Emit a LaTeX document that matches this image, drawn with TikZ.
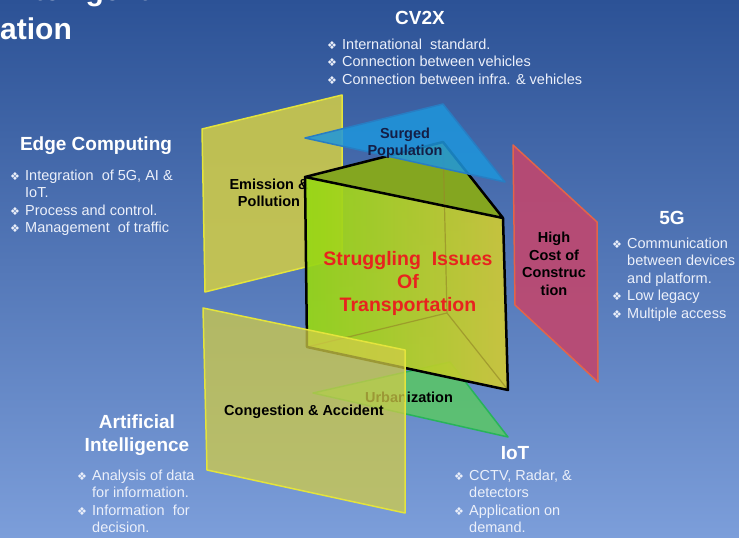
\documentclass[tikz,border=0pt]{standalone}
\usepackage{fontspec}
\setmainfont{Liberation Sans}
\newfontfamily\dejavu{DejaVu Sans}
\usetikzlibrary{positioning}
\definecolor{bgoben}{RGB}{44,82,150}
\definecolor{bgmitte}{RGB}{80,120,190}
\definecolor{bgunten}{RGB}{124,158,218}
\definecolor{schrift}{RGB}{236,240,250}
\definecolor{gelb}{RGB}{208,204,72}
\definecolor{gelbrand}{RGB}{228,228,60}
\definecolor{blau}{RGB}{30,150,220}
\definecolor{blaurand}{RGB}{40,125,195}
\definecolor{gruen}{RGB}{90,200,100}
\definecolor{gruenrand}{RGB}{40,180,90}
\definecolor{rot}{RGB}{190,72,112}
\definecolor{rotrand}{RGB}{228,100,72}
\definecolor{limette}{RGB}{150,215,20}
\definecolor{oliv}{RGB}{208,200,55}
\definecolor{deckel}{RGB}{132,166,32}
\definecolor{kante}{RGB}{150,140,40}
\definecolor{warnrot}{RGB}{232,35,30}
\newcommand{\punkt}{\makebox[15pt][l]{\dejavu\fontsize{11}{11}\selectfont ❖}}
\tikzset{
  titel/.style={text=white, font=\bfseries\fontsize{30}{34}\selectfont, inner sep=0pt},
  kopf/.style={text=white, font=\bfseries\fontsize{19}{23}\selectfont, align=center, inner sep=0pt},
  liste/.style={text=schrift, font=\fontsize{14.5}{17.5}\selectfont, align=left, anchor=base west, inner sep=0pt},
  etikett/.style={font=\bfseries\fontsize{14.5}{17.5}\selectfont, align=center, inner sep=0pt},
  flaeche/.style={line width=1.5pt, line join=round},
}

\begin{document}
\begin{tikzpicture}[x=1pt, y=-1pt]
    \useasboundingbox (0,0) rectangle (739,538);
    \shade[top color=bgoben, middle color=bgmitte, bottom color=bgunten] (0,0) rectangle (739,538);

    % title, cut off by the frame
    \node[titel, anchor=base west] (intelligent) at (7,1) {Intelligent};
    \node[titel, anchor=base west] (ation) at (0,39) {ation};

    % back panel and green triangle
    \draw[flaeche, draw=gelbrand, fill=gelb, fill opacity=0.88] (202,129) -- (342,95) -- (342,258) -- (205,292) -- cycle;
    \node[etikett] (emission) at (269,193) {Emission \&\\Pollution};
    \draw[flaeche, draw=gruenrand, fill=gruen, fill opacity=0.85] (313,393) -- (450,362) -- (508,437) -- cycle;
    \node[etikett] (urban) at (409,397) {Urbanization};

    % prism
    \coordinate (vl) at (305,177);
    \coordinate (vr) at (503,218);
    \coordinate (ur) at (508,390);
    \coordinate (ul) at (307,347);
    \coordinate (hb) at (443,142);
    \coordinate (hu) at (447,313);
    \fill[deckel] (vl) -- (hb) -- (vr) -- cycle;
    \shade[left color=limette, right color=oliv, opacity=0.92] (vl) -- (vr) -- (ur) -- (ul) -- cycle;
    \draw[kante, line width=1.2pt, opacity=0.7] (hb) -- (hu) (ul) -- (hu) -- (ur);
    \draw[black, line width=2.5pt, line join=round] (vl) -- (vr) -- (ur) -- (ul) -- cycle (vl) -- (hb) -- (vr);
    \node[etikett, text=warnrot, font=\bfseries\fontsize{19.5}{23}\selectfont] (issues) at (408,283)
      {Struggling\ \ Issues\\Of\\Transportation};

    % blue triangle on top
    \draw[flaeche, draw=blaurand, fill=blau, fill opacity=0.85] (305,138) -- (443,104) -- (505,182) -- cycle;
    \node[etikett, text={rgb,255:red,20;green,30;blue,70}] (surged) at (405,143) {Surged\\Population};

    % red panel
    \draw[flaeche, draw=rotrand, fill=rot, fill opacity=0.92] (513,145) -- (597,222) -- (598,382) -- (515,305) -- cycle;
    \node[etikett] (kosten) at (554,264) {High\\Cost of\\Construc\\tion};

    % front panel
    \draw[flaeche, draw=gelbrand, fill=gelb, fill opacity=0.75] (203,308) -- (405,350) -- (405,513) -- (207,470) -- cycle;
    \node[etikett] (stau) at (304,412) {Congestion \& Accident};

    % technologies (base = last line)
    \node[kopf] (cv2x) at (420,18) {CV2X};
    \node[liste] (cv2xliste) at (327,84)
      {\punkt International\ \ standard.\\\punkt Connection between vehicles\\\punkt Connection between infra. \& vehicles};
    \node[kopf] (edge) at (96,146) {Edge Computing};
    \node[liste] (edgeliste) at (10,232.5)
      {\punkt Integration\ \ of 5G, AI \&\\\hphantom{\punkt}IoT.\\\punkt Process and control.\\\punkt Management\ \ of traffic};
    \node[kopf] (fuenfg) at (672,218) {5G};
    \node[liste] (fuenfgliste) at (612,318)
      {\punkt Communication\\\hphantom{\punkt}between devices\\\hphantom{\punkt}and platform.\\\punkt Low legacy\\\punkt Multiple access};
    \node[kopf] (ki) at (137,435) {Artificial\\Intelligence};
    \node[liste] (kiliste) at (77,532.5)
      {\punkt Analysis of data\\\hphantom{\punkt}for information.\\\punkt Information\ \ for\\\hphantom{\punkt}decision.};
    \node[kopf] (iot) at (515,453) {IoT};
    \node[liste] (iotliste) at (454,532.5)
      {\punkt CCTV, Radar, \&\\\hphantom{\punkt}detectors\\\punkt Application on\\\hphantom{\punkt}demand.};
\end{tikzpicture}
\end{document}
